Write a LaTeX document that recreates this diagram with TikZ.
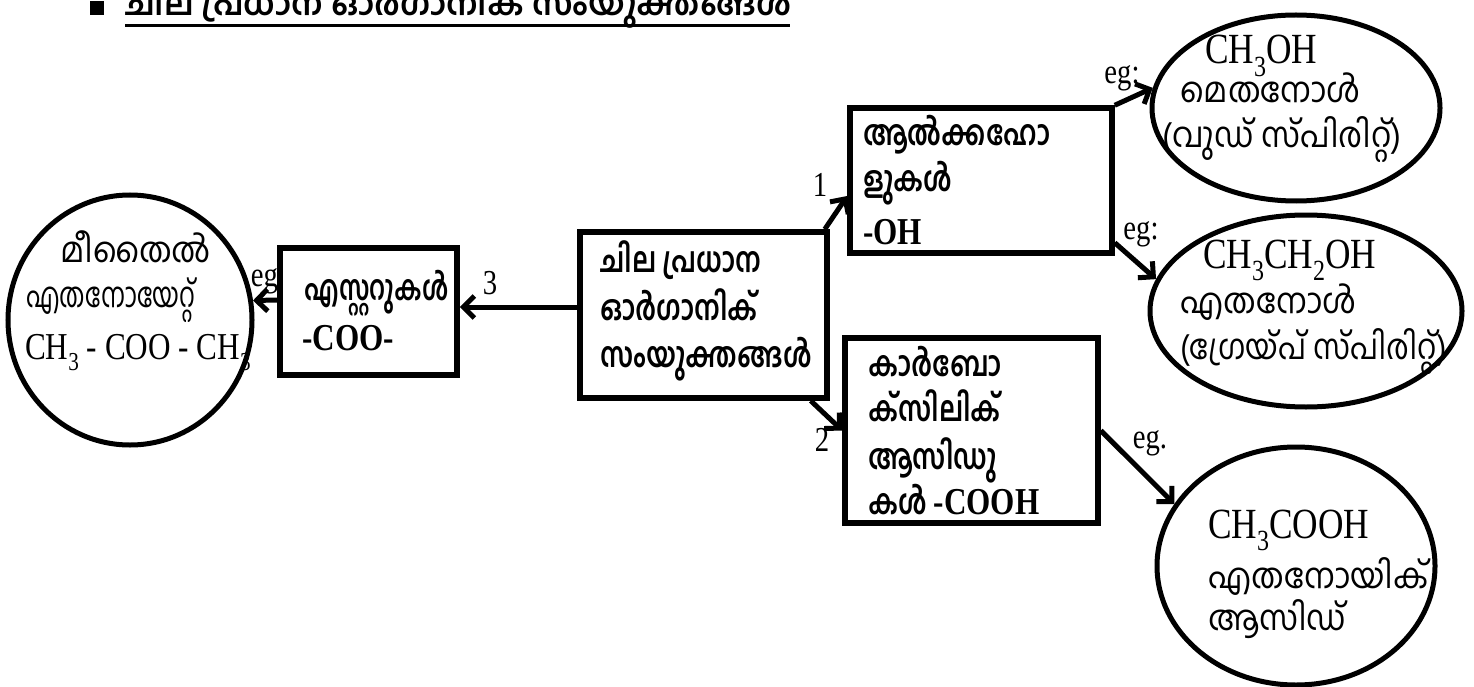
\documentclass[tikz,border=0pt]{standalone}
\usepackage{fontspec}
\usepackage{graphicx}
\usetikzlibrary{shapes.geometric,arrows.meta}
\setmainfont{Liberation Serif}
\newfontfamily\tnr[FakeStretch=0.82]{Liberation Serif}
\newfontfamily\mal[Script=Malayalam,FakeStretch=0.77]{Hind Kochi}
\newfontfamily\malr[Script=Malayalam,FakeStretch=0.92]{Hind Kochi}
\newfontfamily\malt[Script=Malayalam]{Hind Kochi}
\newcommand\sbs[1]{\raisebox{-0.3em}{\scalebox{0.68}{#1}}}
\newcommand\hsq[2]{\scalebox{#1}[1]{#2}}
\begin{document}
\begin{tikzpicture}[x=1pt,y=-1pt,
  box/.style={draw,line width=5.5pt,rectangle,inner sep=0pt},
  oval/.style={draw,line width=5pt,ellipse,inner sep=0pt},
  arr/.style={line width=5pt,-{Straight Barb[length=11pt,width=22pt]}},
  mlb/.style={anchor=base west,inner sep=0pt,font=\fontsize{35}{37}\selectfont\mal\bfseries},
  ml/.style={anchor=base west,inner sep=0pt,font=\fontsize{35}{37}\selectfont\malr},
  tr/.style={anchor=base west,inner sep=0pt,font=\fontsize{43}{46}\selectfont\tnr},
  trb/.style={anchor=base west,inner sep=0pt,font=\fontsize{38}{40}\selectfont\tnr\bfseries},
  lbl/.style={inner sep=0pt,font=\fontsize{35}{37}\selectfont\tnr}]
\useasboundingbox (0,0) rectangle (1474,687);
\clip (0,0) rectangle (1474,687);
% title
\node[fill,minimum size=14pt,inner sep=0pt] (bul) at (97,8) {};
\node[anchor=base west,inner sep=0pt,font=\fontsize{33}{35}\selectfont\malt\bfseries] (title) at (125,16) {ചില പ്രധാന ഓർഗാനിക് സംയുക്തങ്ങൾ};
\coordinate (ul1) at (125,26);
\coordinate (ul2) at (790,26);
\draw[line width=3pt] (ul1) -- (ul2);
% boxes
\node[box,minimum width=247pt,minimum height=166pt] (main) at (703.5,315) {};
\node[box,minimum width=177pt,minimum height=127pt] (est) at (368.5,311.5) {};
\node[box,minimum width=262pt,minimum height=145pt] (alc) at (981,180.5) {};
\node[box,minimum width=253pt,minimum height=185pt] (carb) at (971.5,430.5) {};
% ovals
\node[oval,minimum width=244pt,minimum height=250pt] (circ) at (130,320) {};
\node[oval,minimum width=288pt,minimum height=186pt] (e1) at (1296,108) {};
\node[oval,minimum width=312pt,minimum height=192pt] (e2) at (1306,311) {};
\node[oval,minimum width=278pt,minimum height=238pt] (e3) at (1296,566) {};
% box texts
\node[mlb] (m1) at (600,272) {ചില പ്രധാന};
\node[mlb] (m2) at (600,320) {ഓർഗാനിക്};
\node[mlb] (m3) at (600,367) {സംയുക്തങ്ങൾ};
\node[mlb] (s1) at (304,300) {\hsq{0.92}{എസ്റ്ററുകൾ}};
\node[trb] (s2) at (302,350) {-COO-};
\node[mlb] (a1) at (863,146) {ആൽക്കഹോ};
\node[mlb] (a2) at (863,192) {ളുകൾ};
\node[trb] (a3) at (863,244) {-OH};
\node[mlb] (c1) at (868,376) {കാർബോ};
\node[mlb] (c2) at (868,421) {ക്സിലിക്};
\node[mlb] (c3) at (868,469) {ആസിഡു};
\node[mlb] (c4) at (868,514) {കൾ {\fontsize{38}{40}\selectfont\tnr\bfseries -COOH}};
% oval texts
\node[ml] (l1) at (60,262) {മീതൈൽ};
\node[ml] (l2) at (26,307) {\hsq{0.78}{എതനോയേറ്റ്}};
\node[tr,font=\fontsize{38}{40}\selectfont\tnr] (l3) at (25,359) {CH\sbs{3} - COO - CH\sbs{3}};
\node[tr] (p1) at (1205,64) {CH\sbs{3}OH};
\node[ml] (p2) at (1180,103) {മെതനോൾ};
\node[ml] (p3) at (1162,148) {(വുഡ് സ്പിരിറ്റ്)};
\node[tr] (q1) at (1203,268) {CH\sbs{3}CH\sbs{2}OH};
\node[ml] (q2) at (1180,313) {എതനോൾ};
\node[ml] (q3) at (1180,359) {\hsq{0.95}{(ഗ്രേയ്പ് സ്പിരിറ്റ്)}};
\node[tr] (r1) at (1208,538) {CH\sbs{3}COOH};
\node[ml] (r2) at (1208,588) {എതനോയിക്};
\node[ml] (r3) at (1208,630) {ആസിഡ്};
% arrows
\draw[arr] ([xshift=-5pt]main.north east) -- ([yshift=-15.5pt]alc.west);
\draw[arr] ([xshift=-19pt]main.south east) -- (carb.west);
\draw[arr] ([yshift=8pt]main.west) -- ([yshift=4.5pt]est.east);
\draw[arr] ([yshift=11.5pt]est.west) -- (circ.9.4);
\draw[arr] (alc.north east) -- (e1.172);
\draw[arr] ([yshift=13pt]alc.south east) -- (e2.168);
\draw[arr] (carb.east) -- (e3.153);
% labels
\node[lbl] (n1) at (820,185) {1};
\node[lbl] (n2) at (822,440) {2};
\node[lbl] (n3) at (490,283) {3};
\node[lbl] (g0) at (268,281) {eg.};
\node[lbl] (g1) at (1122,78) {eg:};
\node[lbl] (g2) at (1141,234) {eg:};
\node[lbl] (g3) at (1150,443) {eg.};
\end{tikzpicture}
\end{document}
